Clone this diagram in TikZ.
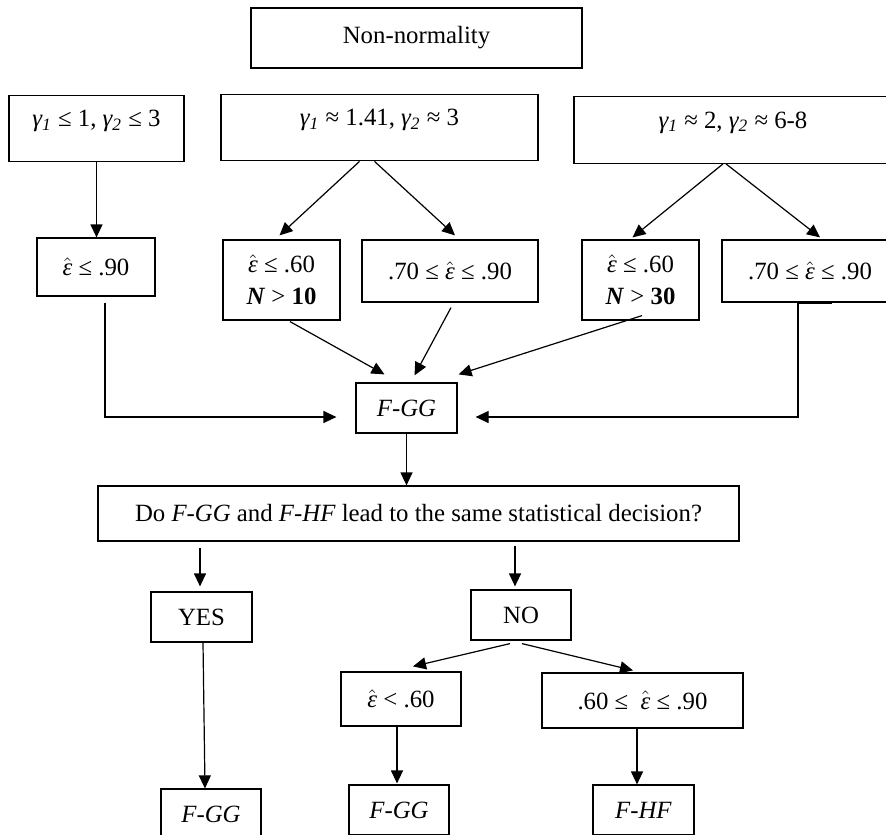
\documentclass[tikz,border=0pt]{standalone}
\usepackage[no-math]{fontspec}
\setmainfont{Liberation Serif}
\usetikzlibrary{positioning,arrows.meta,calc}

\newcommand{\ehat}{\ensuremath{\hat{\mbox{\itshape ε}}}}
\newcommand{\gam}[1]{{\itshape γ\textsubscript{#1}}}

\begin{document}
\begin{tikzpicture}[
    x=0.5pt, y=-0.5pt,
    box/.style={rectangle, draw, line width=0.6pt, inner sep=0pt, font=\fontsize{12.4pt}{16pt}\selectfont},
    topbox/.style={box, text height=15.8pt, text depth=17.5pt},
    arrow/.style={-{Triangle[length=6.5pt,width=6pt]}, line width=0.6pt}
]
\useasboundingbox (0,0) rectangle (886,834);

% Top level
\node[box, minimum width=165.5pt, minimum height=30pt] (nonnorm) at (416.5,38) {Non-normality};

% Skewness and kurtosis
\node[topbox, minimum width=87.5pt] (g1) at (96.5,128.5) {\gam{1} ≤ 1, \gam{2} ≤ 3};
\node[topbox, minimum width=158.5pt] (g2) at (379.5,127.5) {\gam{1} ≈ 1.41, \gam{2} ≈ 3};
\node[topbox, minimum width=159pt] (g3) at (733,130) {\gam{1} ≈ 2, \gam{2} ≈ 6-8};

% Epsilon conditions
\node[box, minimum width=59pt, minimum height=29pt] (e1) at (96,267) {\ehat{} ≤ .90};
\node[box, align=center, minimum width=58.5pt, minimum height=40pt] (e2) at (281.5,280) {\ehat{} ≤ .60\\\textbf{\textit{N}} > \textbf{10}};
\node[box, minimum width=88pt, minimum height=31pt] (e3) at (450,271) {.70 ≤ \ehat{} ≤ .90};
\node[box, align=center, minimum width=58.5pt, minimum height=40pt] (e4) at (640.5,280) {\ehat{} ≤ .60\\\textbf{\textit{N}} > \textbf{30}};
\node[box, minimum width=88pt, minimum height=31pt] (e5) at (810,271) {.70 ≤ \ehat{} ≤ .90};

% Decision
\node[box, minimum width=50.5pt, minimum height=25pt] (fgg) at (406.5,408) {\textit{F-GG}};
\node[box, minimum width=320.5pt, minimum height=27.5pt] (question) at (418.5,513.5) {Do \textit{F-GG} and \textit{F-HF} lead to the same statistical decision?};
\node[box, minimum width=50.5pt, minimum height=25pt] (yes) at (201.5,617) {YES};
\node[box, minimum width=50pt, minimum height=25pt] (no) at (521,615) {NO};
\node[box, minimum width=60pt, minimum height=27pt] (lt) at (401,699) {\ehat{} < .60};
\node[box, minimum width=100.5pt, minimum height=27.5pt] (mid) at (642.5,700.5) {.60 ≤\ \ \ehat{} ≤ .90};

% Outcomes
\node[box, minimum width=50pt, minimum height=25pt] (b1) at (211,814) {\textit{F-GG}};
\node[box, minimum width=50pt, minimum height=25pt] (b2) at (399,810) {\textit{F-GG}};
\node[box, minimum width=50.5pt, minimum height=25pt] (b3) at (643.5,810) {\textit{F-HF}};

% Arrows
\draw[arrow] (g1.south) -- (g1.south |- e1.north);
\draw[arrow] ($(g2.south)+(-20,0)$) -- ($(e2.north)+(-2,-4)$);
\draw[arrow] ($(g2.south)+(-5,0)$) -- ($(e3.north)+(5,-4)$);
\draw[arrow] ($(g3.south)+(-10,0)$) -- ($(e4.north)+(-8,-2)$);
\draw[arrow] ($(g3.south)+(-7,0)$) -- ($(e5.north)+(10,-2)$);

\draw[arrow] ($(e1.south)+(9,6)$) |- ($(fgg.west)+(-19,9)$);
\draw[arrow] ($(e2.south)+(8.5,1)$) -- ($(fgg.north)+(-22,-8)$);
\draw[arrow] ($(e3.south)+(1,5)$) -- ($(fgg.north)+(8,-7)$);
\draw[arrow] ($(e4.south)+(1.5,-5)$) -- ($(fgg.north east)+(1,-8)$);
\draw[arrow] ($(e5.south)+(-12,0)$) |- ($(fgg.east)+(18,9)$);
\draw[line width=1.5pt] ($(e5.south)+(-12,0)$) -- ++(34,0);

\draw[arrow] (fgg.south) -- (fgg.south |- question.north);
\draw[arrow] ($(yes.north |- question.south)+(-1.5,6)$) -- ($(yes.north)+(-1.5,-5)$);
\draw[arrow] ($(no.north |- question.south)+(-6,4)$) -- ($(no.north)+(-6,-3)$);

\draw[arrow] ($(yes.south)+(1.5,0)$) -- ($(b1.north)+(-6,0)$);
\draw[arrow] ($(no.south)+(-11,3)$) -- ($(lt.north)+(12,-5)$);
\draw[arrow] ($(no.south)+(1,3)$) -- ($(mid.north)+(-9.5,-2)$);
\draw[arrow] ($(lt.south)+(-4,0)$) -- ($(b2.north)+(-2,-1)$);
\draw[arrow] ($(mid.south)+(-5.5,0)$) -- ($(b3.north)+(-6.5,0)$);

\end{tikzpicture}
\end{document}
